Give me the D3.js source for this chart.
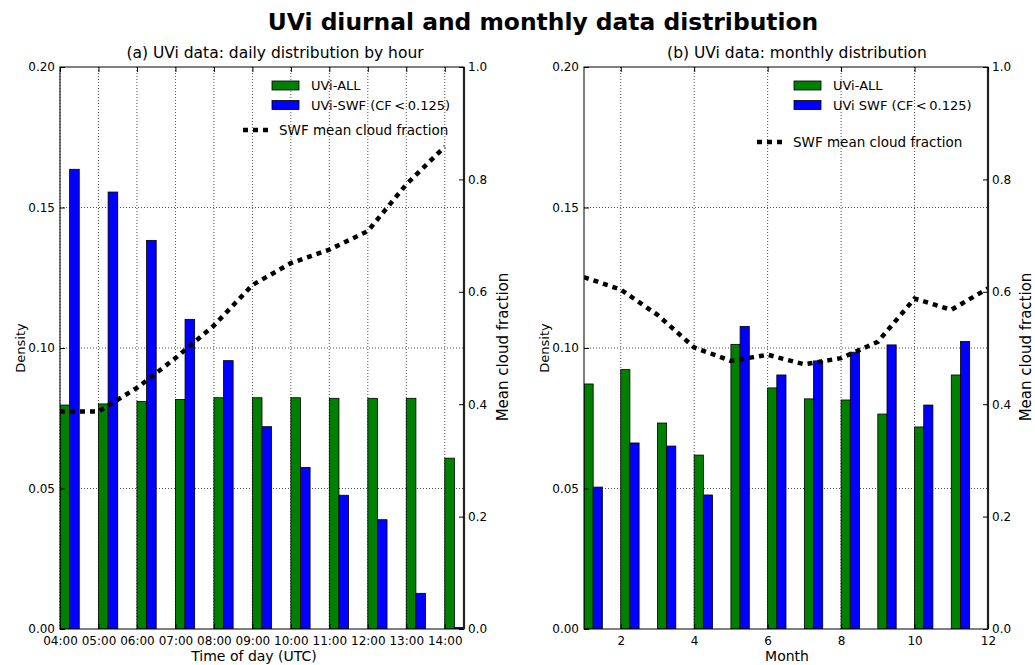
<!DOCTYPE html>
<html>
<head>
<meta charset="utf-8">
<script src="https://cdn.jsdelivr.net/npm/d3@7"></script>
<style>
  body { margin: 0; background: #fff; }
  svg { font-family: "DejaVu Sans", sans-serif; }
</style>
</head>
<body>
<svg width="1035" height="665"></svg>
<script>
// panel (a): hour of day
var hours = [4, 5, 6, 7, 8, 9, 10, 11, 12, 13, 14];
var hourLabels = ["04:00", "05:00", "06:00", "07:00", "08:00", "09:00", "10:00", "11:00", "12:00", "13:00", "14:00"];
var hourAll = [0.0797, 0.0801, 0.0810, 0.0817, 0.0823, 0.0823, 0.0823, 0.0821, 0.0821, 0.0821, 0.0608];
var hourSwf = [0.1636, 0.1555, 0.1383, 0.1102, 0.0955, 0.0720, 0.0575, 0.0476, 0.0389, 0.0127, 0.0005];
var hourCloud = [0.387, 0.387, 0.429, 0.482, 0.540, 0.612, 0.651, 0.675, 0.708, 0.791, 0.858];

// panel (b): month
var months = [1, 2, 3, 4, 5, 6, 7, 8, 9, 10, 11];
var monthAll = [0.0872, 0.0923, 0.0733, 0.0619, 0.1013, 0.0858, 0.0819, 0.0815, 0.0765, 0.0719, 0.0904];
var monthSwf = [0.0505, 0.0662, 0.0651, 0.0477, 0.1077, 0.0904, 0.0954, 0.0985, 0.1011, 0.0797, 0.1023];
var cloudMonths = [1, 2, 3, 4, 5, 6, 7, 8, 9, 10, 11, 12];
var monthCloud = [0.626, 0.604, 0.559, 0.501, 0.477, 0.488, 0.471, 0.482, 0.511, 0.588, 0.568, 0.606];
var monthTicks = [2, 4, 6, 8, 10, 12];

var densityTicks = [0, 0.05, 0.10, 0.15, 0.20];
var cloudTicks = [0, 0.2, 0.4, 0.6, 0.8, 1.0];

var svg = d3.select("svg");

svg.append("text")
  .attr("x", 543).attr("y", 30)
  .attr("text-anchor", "middle")
  .style("font-size", "23.4px").style("font-weight", "bold")
  .text("UVi diurnal and monthly data distribution");

var plotTop = 67, plotBottom = 629;

function drawPanel(p) {
  var g = svg.append("g");
  var x = d3.scaleLinear().domain(p.domain).range([p.left, p.right]);
  var y = d3.scaleLinear().domain([0, 0.2]).range([plotBottom, plotTop]);
  var yc = d3.scaleLinear().domain([0, 1]).range([plotBottom, plotTop]);
  var w = x(p.domain[0] + 0.25) - x(p.domain[0]);

  g.append("clipPath").attr("id", p.id + "clip")
    .append("rect").attr("x", p.left).attr("y", plotTop)
    .attr("width", p.right - p.left).attr("height", plotBottom - plotTop);

  // grid
  g.selectAll(".vg").data(p.ticks).enter().append("line")
    .attr("x1", d => x(d)).attr("x2", d => x(d))
    .attr("y1", plotTop).attr("y2", plotBottom)
    .attr("stroke", "#000").attr("stroke-width", 0.7).attr("stroke-dasharray", "1,2");
  g.selectAll(".hg").data(densityTicks.slice(1, 4)).enter().append("line")
    .attr("x1", p.left).attr("x2", p.right)
    .attr("y1", d => y(d)).attr("y2", d => y(d))
    .attr("stroke", "#000").attr("stroke-width", 0.7).attr("stroke-dasharray", "1,2");

  var plot = g.append("g").attr("clip-path", "url(#" + p.id + "clip)");
  plot.selectAll(".ba").data(p.cats).enter().append("rect")
    .attr("x", d => x(d)).attr("width", w)
    .attr("y", (d, i) => y(p.all[i])).attr("height", (d, i) => plotBottom - y(p.all[i]))
    .attr("fill", "#008000").attr("stroke", "#000").attr("stroke-width", 0.8);
  plot.selectAll(".bs").data(p.cats).enter().append("rect")
    .attr("x", d => x(d + 0.25)).attr("width", w)
    .attr("y", (d, i) => y(p.swf[i])).attr("height", (d, i) => plotBottom - y(p.swf[i]))
    .attr("fill", "#0000ff").attr("stroke", "#000").attr("stroke-width", 0.8);

  var line = d3.line().x((d, i) => x(p.lineX[i])).y(d => yc(d));
  plot.append("path").datum(p.lineY)
    .attr("d", line).attr("fill", "none")
    .attr("stroke", "#000").attr("stroke-width", 4.5).attr("stroke-dasharray", "5,5");

  // spines
  g.append("rect").attr("x", p.left).attr("y", plotTop)
    .attr("width", p.right - p.left).attr("height", plotBottom - plotTop)
    .attr("fill", "none").attr("stroke", "#000").attr("stroke-width", 1);
  g.append("line").attr("x1", p.right).attr("x2", p.right).attr("y1", plotTop).attr("y2", plotBottom)
    .attr("stroke", "#222").attr("stroke-width", 2.2);

  // axes with inward ticks
  var xa = g.append("g").attr("transform", "translate(0," + plotBottom + ")")
    .call(d3.axisBottom(x).tickValues(p.ticks).tickFormat(p.fmt).tickSize(-5).tickPadding(7));
  var xt = g.append("g").attr("transform", "translate(0," + plotTop + ")")
    .call(d3.axisTop(x).tickValues(p.ticks).tickFormat("").tickSize(-5));
  var ya = g.append("g").attr("transform", "translate(" + p.left + ",0)")
    .call(d3.axisLeft(y).tickValues(densityTicks).tickFormat(d3.format(".2f")).tickSize(-5).tickPadding(5));
  var yr = g.append("g").attr("transform", "translate(" + p.right + ",0)")
    .call(d3.axisRight(yc).tickValues(cloudTicks).tickFormat(d3.format(".1f")).tickSize(-5).tickPadding(4));
  [xa, xt, ya, yr].forEach(function(a) {
    a.select(".domain").remove();
    a.attr("font-size", 12).attr("font-family", "DejaVu Sans, sans-serif");
  });

  // titles and labels
  g.append("text").attr("x", p.titleX).attr("y", 58).attr("text-anchor", "middle")
    .style("font-size", "15.5px").text(p.title);
  g.append("text").attr("x", p.xlabelX).attr("y", 661).attr("text-anchor", "middle")
    .style("font-size", "14px").text(p.xlabel);
  g.append("text").attr("transform", "translate(" + (p.left - 40) + ",348) rotate(-90)")
    .attr("text-anchor", "middle").attr("dominant-baseline", "central")
    .style("font-size", "13px").text("Density");
  g.append("text").attr("transform", "translate(" + p.cloudLabelX + ",347) rotate(-90)")
    .attr("text-anchor", "middle").attr("dominant-baseline", "central")
    .style("font-size", "15px").text("Mean cloud fraction");

  // legend (no frame)
  var lg = g.append("g");
  lg.append("rect").attr("x", p.legX).attr("y", 81).attr("width", 27).attr("height", 9)
    .attr("fill", "#008000").attr("stroke", "#000").attr("stroke-width", 0.8);
  lg.append("rect").attr("x", p.legX).attr("y", 100.5).attr("width", 27).attr("height", 9)
    .attr("fill", "#0000ff").attr("stroke", "#000").attr("stroke-width", 0.8);
  lg.append("text").attr("x", p.legX + 39).attr("y", 90).style("font-size", "13px").text("UVi-ALL");
  lg.append("text").attr("x", p.legX + 39).attr("y", 110).style("font-size", "13px").text(p.swfLabel);
  lg.append("line").attr("x1", p.lineLegX).attr("x2", p.lineLegX + 26)
    .attr("y1", p.lineLegY).attr("y2", p.lineLegY)
    .attr("stroke", "#000").attr("stroke-width", 4.5).attr("stroke-dasharray", "5,5");
  lg.append("text").attr("x", p.lineLegX + 36).attr("y", p.lineLegY + 5)
    .style("font-size", "13.5px").text("SWF mean cloud fraction");
}

drawPanel({
  id: "a", left: 60, right: 464, domain: [4, 14.5],
  ticks: hours, fmt: (d, i) => hourLabels[i],
  cats: hours, all: hourAll, swf: hourSwf, lineX: hours, lineY: hourCloud,
  title: "(a) UVi data: daily distribution by hour", titleX: 275,
  xlabel: "Time of day (UTC)", xlabelX: 254, cloudLabelX: 503,
  legX: 272, swfLabel: "UVi-SWF (CF\u2009<\u20090.125)", lineLegX: 243, lineLegY: 130
});

drawPanel({
  id: "b", left: 584, right: 988, domain: [1, 12],
  ticks: monthTicks, fmt: d => d,
  cats: months, all: monthAll, swf: monthSwf, lineX: cloudMonths, lineY: monthCloud,
  title: "(b) UVi data: monthly distribution", titleX: 797,
  xlabel: "Month", xlabelX: 787, cloudLabelX: 1026,
  legX: 794, swfLabel: "UVi SWF (CF\u2009<\u20090.125)", lineLegX: 757, lineLegY: 142
});
</script>
</body>
</html>
